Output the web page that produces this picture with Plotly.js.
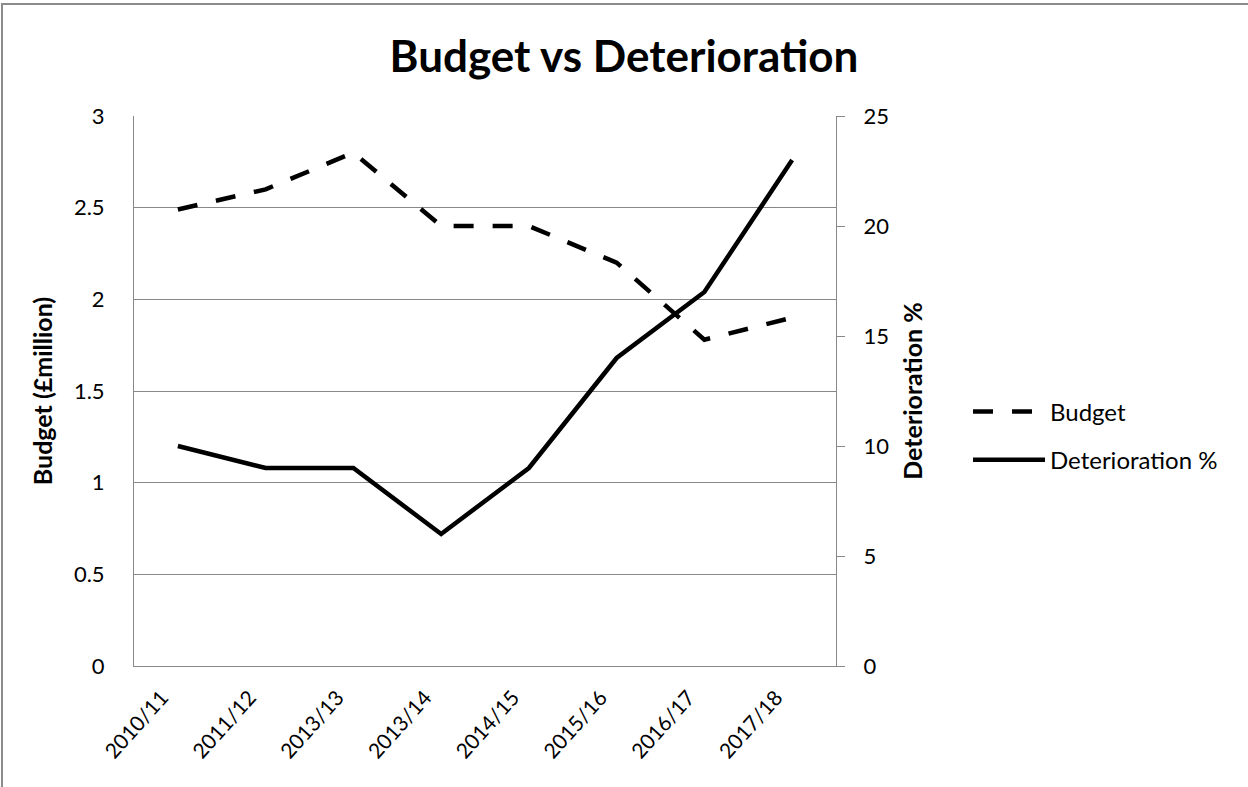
<!DOCTYPE html>
<html>
<head>
<meta charset="utf-8">
<script src="https://cdn.plot.ly/plotly-3.0.1.min.js"></script>
<style>
  html, body { margin: 0; padding: 0; background: #fff; }
  #wrap { position: relative; width: 1248px; height: 787px; overflow: hidden; }
  #chart { position: absolute; left: 0; top: 0; width: 1248px; height: 787px; }
  #frame { position: absolute; left: 1px; top: 3px; width: 1300px; height: 900px;
           border-top: 2px solid #8c8c8c; border-left: 2px solid #8c8c8c; pointer-events: none; }
</style>
</head>
<body>
<div id="wrap">
  <div id="chart"></div>
  <div id="frame"></div>
</div>
<script>
const categories = ["2010/11", "2011/12", "2013/13", "2013/14", "2014/15", "2015/16", "2016/17", "2017/18"];
const budget = [2.49, 2.6, 2.8, 2.4, 2.4, 2.2, 1.78, 1.9];
const deterioration = [10, 9, 9, 6, 9, 14, 17, 23];
const leftTicks = [0, 0.5, 1, 1.5, 2, 2.5, 3];
const rightTicks = [0, 5, 10, 15, 20, 25];

const FONT = "Lato, 'Open Sans', sans-serif";

const traces = [
  {
    x: categories, y: budget, name: "Budget", type: "scatter", mode: "lines",
    yaxis: "y", legendgroup: "a",
    line: { color: "#000", width: 4.5, dash: "20px,19px" }
  },
  {
    x: categories, y: deterioration, name: "Deterioration %", type: "scatter", mode: "lines",
    yaxis: "y2", legendgroup: "b",
    line: { color: "#000", width: 4.5 }
  }
];

const layout = {
  width: 1248, height: 787,
  paper_bgcolor: "#fff", plot_bgcolor: "#fff",
  margin: { l: 134, r: 412, t: 116, b: 121 },
  font: { family: FONT, size: 22, color: "#000" },
  title: {
    text: "<b>Budget vs Deterioration</b>",
    font: { family: FONT, size: 44, color: "#000" },
    x: 0.5, xanchor: "center", y: 1 - 57 / 787, yanchor: "middle"
  },
  xaxis: {
    type: "category", range: [-0.5, 7.5],
    showgrid: false, showline: true, linecolor: "#888", linewidth: 1,
    ticks: "", tickangle: -48, ticklabelstandoff: 10, ticklabelshift: -16,
    tickfont: { family: FONT, size: 21, color: "#000" }, zeroline: false
  },
  yaxis: {
    range: [0, 3], tickvals: leftTicks, ticktext: leftTicks.map(String),
    showgrid: true, gridcolor: "#888", gridwidth: 1,
    showline: true, linecolor: "#888", linewidth: 1,
    ticks: "", ticklabelstandoff: 24, zeroline: false,
    tickfont: { family: FONT, size: 22, color: "#000" },
    title: { text: "<b>Budget (£million)</b>", font: { family: FONT, size: 25, color: "#000" }, standoff: 14 }
  },
  yaxis2: {
    overlaying: "y", side: "right", range: [0, 25],
    tickvals: rightTicks, ticktext: rightTicks.map(String),
    showgrid: false, showline: true, linecolor: "#888", linewidth: 1,
    ticks: "outside", ticklen: 8, tickwidth: 1, tickcolor: "#888",
    ticklabelstandoff: 14, zeroline: false,
    tickfont: { family: FONT, size: 22, color: "#000" },
    title: { text: "<b>Deterioration %</b>", font: { family: FONT, size: 25, color: "#000" }, standoff: 16 }
  },
  legend: {
    x: (968 - 134) / 702, xanchor: "left",
    y: (666 - 436) / 550, yanchor: "middle",
    font: { family: FONT, size: 24, color: "#000" },
    bgcolor: "rgba(0,0,0,0)", borderwidth: 0,
    itemwidth: 72, tracegroupgap: 14, traceorder: "grouped"
  },
  showlegend: true
};

Plotly.newPlot("chart", traces, layout, { staticPlot: true, displayModeBar: false });
</script>
</body>
</html>
